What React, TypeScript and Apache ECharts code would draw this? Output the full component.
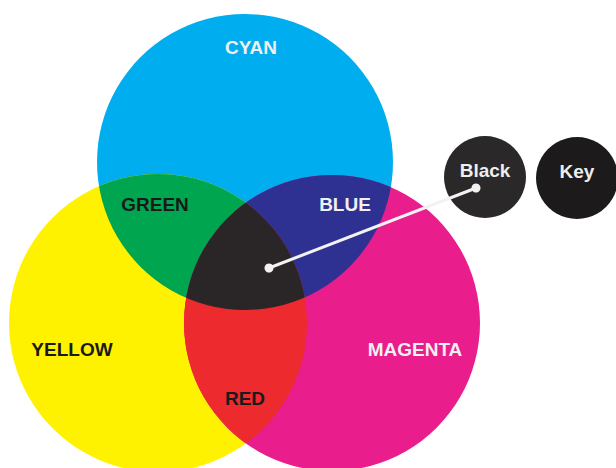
import React, { useEffect, useRef } from "react";
import * as echarts from "echarts";

// Three ink sets (data units = canvas units)
const setNames = ["CYAN", "YELLOW", "MAGENTA"];
const setCx = [245, 158, 332];
const setCy = [162, 323, 323];
const setR = [148, 149, 148];

// Regions: which set fills it and which sets clip it
const regionNames = ["CYAN", "YELLOW", "MAGENTA", "GREEN", "BLUE", "RED", "BLACK"];
const regionFill = [0, 1, 2, 1, 2, 2, 2];
const regionClips: number[][] = [[], [], [], [0], [0], [1], [0, 1]];
const regionColors = ["#00adee", "#fff200", "#e91d8b", "#00a54f", "#2f3192", "#ed2a2e", "#2a2627"];

// Region labels
const labelNames = ["CYAN", "GREEN", "BLUE", "YELLOW", "MAGENTA", "RED"];
const labelX = [251, 155, 345, 72, 415, 245];
const labelY = [47, 204, 204, 349, 349, 398];
const labelDark = [false, true, false, true, false, true];

// Key swatches
const keyNames = ["Black", "Key"];
const keyX = [485, 577];
const keyY = [177, 178];
const keyColors = ["#2b2829", "#1c1a1b"];

// Pointer from centre to "Black"
const pointerX = [269, 476];
const pointerY = [268, 188];

export default function App() {
  const ref = useRef<HTMLDivElement>(null);
  useEffect(() => {
    if (!ref.current) return;
    const chart = echarts.init(ref.current, undefined, { renderer: "svg" });

    const circleOpt = (api: any, i: number) => {
      const c = api.coord([setCx[i], setCy[i]]);
      const r = api.size([setR[i], 0])[0];
      return { type: "circle", shape: { cx: c[0], cy: c[1], r } };
    };

    const renderItem = (params: any, api: any) => {
      const idx = params.dataIndex;
      const fill: any = {
        ...circleOpt(api, regionFill[idx]),
        style: { fill: regionColors[idx] },
      };
      const clips = regionClips[idx];
      if (clips.length === 0) return fill;
      if (clips.length === 1) {
        return { type: "group", clipPath: circleOpt(api, clips[0]), children: [fill] };
      }
      return {
        type: "group",
        clipPath: circleOpt(api, clips[0]),
        children: [
          { type: "group", clipPath: circleOpt(api, clips[1]), children: [fill] },
        ],
      };
    };

    const font = "'Liberation Sans', Arial, sans-serif";

    chart.setOption({
      animation: false,
      backgroundColor: "#ffffff",
      grid: { left: 0, right: 0, top: 0, bottom: 0 },
      xAxis: { type: "value", min: 0, max: 616, show: false },
      yAxis: { type: "value", min: 0, max: 468, inverse: true, show: false },
      series: [
        {
          type: "custom",
          name: "regions",
          renderItem,
          data: regionNames.map((n, i) => ({ name: n, value: [i] })),
          z: 2,
          silent: true,
        },
        {
          type: "scatter",
          name: "keys",
          z: 3,
          silent: true,
          data: keyNames.map((n, i) => ({
            name: n,
            value: [keyX[i], keyY[i]],
            itemStyle: { color: keyColors[i], opacity: 1 },
          })),
          symbol: "circle",
          symbolSize: 82,
          label: {
            show: true,
            position: "inside",
            formatter: "{b}",
            color: "#eeeeee",
            fontFamily: font,
            fontWeight: "bold",
            fontSize: 19,
            offset: [0, -7],
          },
        },
        {
          type: "line",
          name: "pointer",
          z: 5,
          silent: true,
          data: pointerX.map((x, i) => [x, pointerY[i]]),
          symbol: "circle",
          symbolSize: 9,
          showSymbol: true,
          itemStyle: { color: "#f2f2f2", opacity: 1 },
          lineStyle: { color: "#f2f2f2", width: 3 },
        },
        {
          type: "scatter",
          name: "labels",
          z: 6,
          silent: true,
          symbolSize: 1,
          itemStyle: { color: "rgba(0,0,0,0)", opacity: 1 },
          data: labelNames.map((n, i) => ({
            name: n,
            value: [labelX[i], labelY[i]],
            label: { color: labelDark[i] ? "#1a1a1a" : "#f0f0f0" },
          })),
          label: {
            show: true,
            position: "inside",
            formatter: "{b}",
            fontFamily: font,
            fontWeight: "bold",
            fontSize: 19,
          },
        },
      ],
    });
    return () => chart.dispose();
  }, []);
  return (
    <div
      ref={ref}
      style={{ position: "fixed", left: 0, top: 0, width: 616, height: 468 }}
    />
  );
}
